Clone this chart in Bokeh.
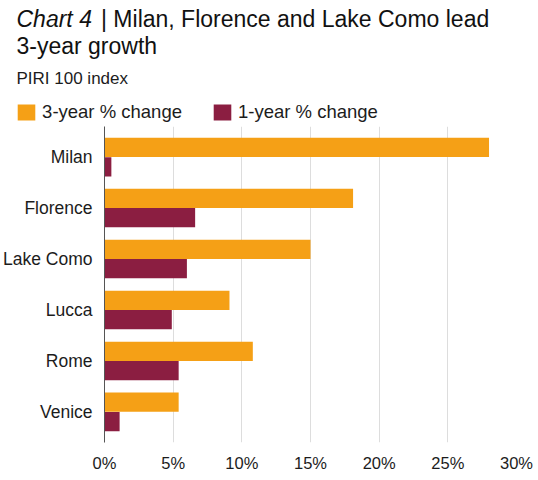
from bokeh.plotting import figure
from bokeh.layouts import column
from bokeh.models import (FactorRange, Range1d, ColumnDataSource, Label, Legend,
                          LegendItem, PrintfTickFormatter, FixedTicker)
from bokeh.transform import dodge
from bokeh.embed import file_html
from bokeh.resources import INLINE

cities = ["Milan", "Florence", "Lake Como", "Lucca", "Rome", "Venice"]
change_3yr = [28.0, 18.1, 15.0, 9.1, 10.8, 5.4]
change_1yr = [0.5, 6.6, 6.0, 4.9, 5.4, 1.1]
x_ticks = [0, 5, 10, 15, 20, 25, 30]

title_italic = "Chart 4"
title_rest = "| Milan, Florence and Lake Como lead"
title_line2 = "3-year growth"
subtitle = "PIRI 100 index"
series_names = ["3-year % change", "1-year % change"]

FONT = "Liberation Sans"
ORANGE = "#F5A016"
MAROON = "#8B1E41"
TEXT = "#1c1c1c"

W = 534
HH = 126          # header height (title, subtitle, legend)
HM = 350          # main chart height
ML, MR, MB = 104, 18, 34

src = ColumnDataSource(dict(city=cities, v3=change_3yr, v1=change_1yr))

# ---------------- header: title, subtitle, legend ----------------
head = figure(width=W, height=HH, output_backend="svg", toolbar_location=None,
              title=None,
              x_range=Range1d(0, W), y_range=Range1d(0, HH),
              x_axis_type=None, y_axis_type=None,
              min_border_left=0, min_border_right=0, min_border_top=0,
              min_border_bottom=0)
head.frame_align = False
head.outline_line_color = None
head.xgrid.visible = False
head.ygrid.visible = False

def lab(text, x, ybase, size, style="normal", color="#111111"):
    return Label(x=x, y=HH - ybase, x_units="screen", y_units="screen",
                 text=text, text_font=FONT, text_font_size=size,
                 text_font_style=style, text_color=color,
                 text_baseline="alphabetic", text_align="left")

head.add_layout(lab(title_italic, 16.0, 18.8, "23px", "italic"))
head.add_layout(lab(title_rest, 100.5, 18.8, "23px"))
head.add_layout(lab(title_line2, 16.0, 45.2, "23px"))
head.add_layout(lab(subtitle, 16.0, 78.3, "17px", color=TEXT))

# invisible proxies that give the legend its swatches
k3 = head.hbar(y="v3", right="v1", height=1, source=src, visible=False,
               fill_color=ORANGE, line_color=None)
k1 = head.hbar(y="v3", right="v1", height=1, source=src, visible=False,
               fill_color=MAROON, line_color=None)

legend = Legend(items=[LegendItem(label=series_names[0], renderers=[k3]),
                       LegendItem(label=series_names[1], renderers=[k1])],
                orientation="horizontal", location=(15.1, 2.9),
                glyph_width=22, glyph_height=20, label_height=20, label_standoff=5,
                spacing=29, padding=0, margin=0, border_line_color=None,
                background_fill_alpha=0, label_text_font=FONT,
                label_text_font_size="18.5px", label_text_color=TEXT)
head.add_layout(legend)

# ---------------- main chart ----------------
p = figure(width=W, height=HM, output_backend="svg", toolbar_location=None,
           title=None,
           y_range=FactorRange(factors=cities[::-1], range_padding=0.1,
                               range_padding_units="absolute"),
           x_range=Range1d(0, 30),
           min_border_left=ML, min_border_right=MR, min_border_top=0,
           min_border_bottom=MB)
p.frame_align = False
p.outline_line_color = None
p.background_fill_color = "white"

p.hbar(y=dodge("city", 0.19, range=p.y_range), left=0, right="v3", height=0.378,
       source=src, fill_color=ORANGE, line_color=None)
p.hbar(y=dodge("city", -0.19, range=p.y_range), left=0, right="v1", height=0.378,
       source=src, fill_color=MAROON, line_color=None)

p.ygrid.grid_line_color = None
p.xgrid.grid_line_color = "#dddddd"
p.xgrid.grid_line_width = 1

xa = p.xaxis[0]
xa.ticker = FixedTicker(ticks=x_ticks)
xa.formatter = PrintfTickFormatter(format="%d%%")
xa.axis_line_color = None
xa.major_tick_line_color = None
xa.minor_tick_line_color = None
xa.major_tick_out = 0
xa.major_tick_in = 0
xa.minor_tick_out = 0
xa.major_label_standoff = 11
xa.major_label_text_font = FONT
xa.major_label_text_font_size = "16.5px"
xa.major_label_text_color = TEXT

ya = p.yaxis[0]
ya.axis_line_color = "#555555"
ya.axis_line_width = 1
ya.major_tick_line_color = None
ya.minor_tick_line_color = None
ya.major_tick_out = 0
ya.major_tick_in = 0
ya.minor_tick_out = 0
ya.major_label_standoff = 12
ya.major_label_text_font = FONT
ya.major_label_text_font_size = "17.5px"
ya.major_label_text_color = TEXT

layout = column(head, p, spacing=0)
open("out.html", "w").write(file_html(layout, INLINE))
